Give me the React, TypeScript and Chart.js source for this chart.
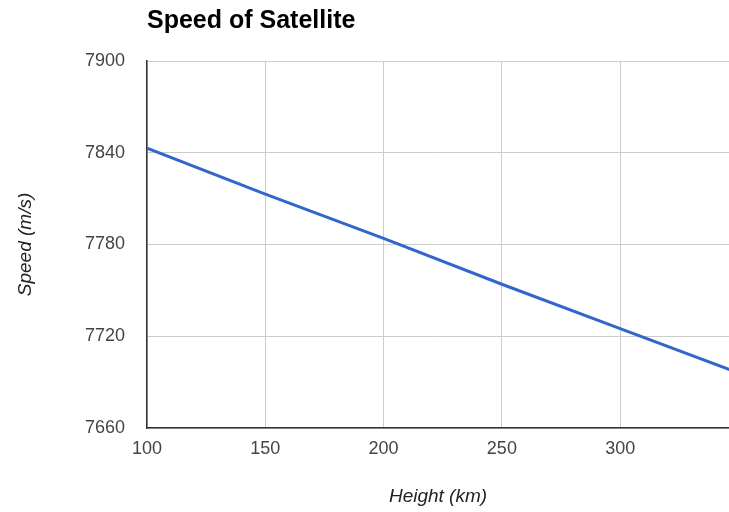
import React, { useEffect, useRef } from "react";
import { Chart, registerables } from "chart.js";

Chart.register(...registerables);

const heightsKm = [100, 150, 200, 250, 300, 350];
const speedsMs = [7843, 7813, 7784, 7754, 7725, 7696];
const chartTitle = "Speed of Satellite";
const xTitle = "Height (km)";
const yTitle = "Speed (m/s)";

const FONT = "'Liberation Sans', Arial, sans-serif";

const titlePlugin = {
  id: "leftTitle",
  afterDraw(chart: any) {
    const { ctx, chartArea } = chart;
    ctx.save();
    ctx.font = `bold 25px ${FONT}`;
    ctx.fillStyle = "#000";
    ctx.textAlign = "left";
    ctx.textBaseline = "alphabetic";
    ctx.fillText(chartTitle, chartArea.left, 28);
    ctx.restore();
  },
};

export default function App() {
  const ref = useRef<HTMLCanvasElement>(null);
  useEffect(() => {
    const chart = new Chart(ref.current as HTMLCanvasElement, {
      type: "line",
      data: {
        datasets: [
          {
            data: heightsKm.map((h, i) => ({ x: h, y: speedsMs[i] })),
            borderColor: "#3366cc",
            borderWidth: 3,
            pointRadius: 0,
            tension: 0,
          },
        ],
      },
      options: {
        animation: false,
        responsive: false,
        maintainAspectRatio: false,
        layout: { padding: { top: 61, right: 0, left: 0, bottom: 0 } },
        plugins: { legend: { display: false }, tooltip: { enabled: false }, title: { display: false } },
        scales: {
          x: {
            type: "linear",
            min: 100,
            max: 346,
            afterFit: (s: any) => {
              s.height = 84;
            },
            ticks: {
              stepSize: 50,
              includeBounds: false,
              padding: 10,
              color: "#444",
              font: { family: FONT, size: 18 },
              maxRotation: 0,
              callback: (v: any) => String(v),
            },
            grid: { color: "#cccccc", lineWidth: 1, drawTicks: false },
            border: { color: "#333", width: 1.5 },
            title: {
              display: true,
              text: xTitle,
              color: "#222",
              font: { family: FONT, size: 19, style: "italic" },
              padding: { top: 0, bottom: 4 },
            },
          },
          y: {
            type: "linear",
            min: 7660,
            max: 7900,
            afterFit: (s: any) => {
              s.width = 147;
            },
            ticks: {
              stepSize: 60,
              padding: 22,
              color: "#444",
              font: { family: FONT, size: 18 },
              callback: (v: any) => String(v),
            },
            grid: { color: "#cccccc", lineWidth: 1, drawTicks: false },
            border: { color: "#333", width: 1.5 },
            title: {
              display: true,
              text: yTitle,
              color: "#222",
              font: { family: FONT, size: 19, style: "italic" },
              padding: { top: 14, bottom: 0 },
            },
          },
        },
      },
      plugins: [titlePlugin],
    } as any);
    return () => chart.destroy();
  }, []);
  return (
    <div style={{ position: "fixed", left: 0, top: 0, width: 729, height: 512, background: "#fff" }}>
      <canvas ref={ref} width={729} height={512} style={{ width: 729, height: 512 }} />
    </div>
  );
}
